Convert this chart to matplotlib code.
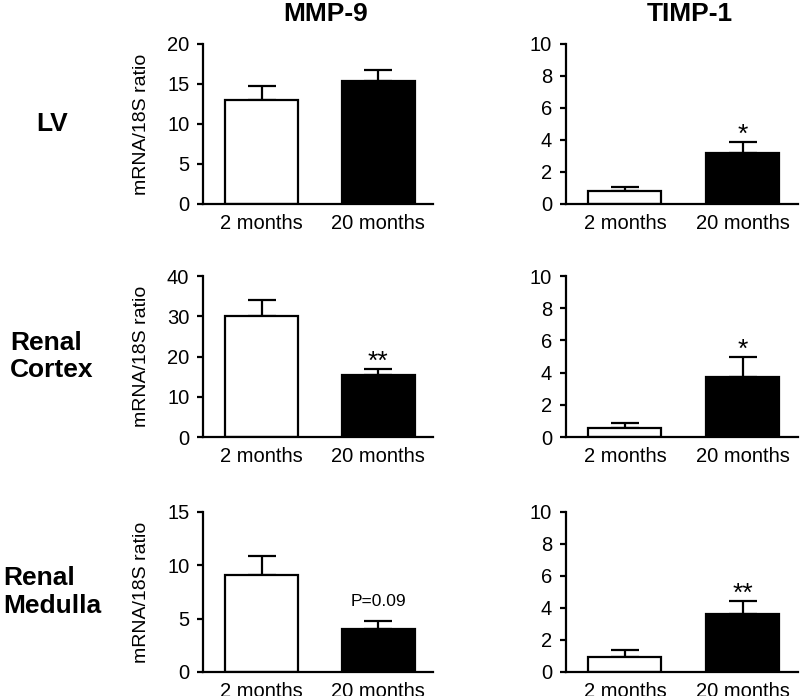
import numpy as np
import matplotlib
matplotlib.use("Agg")
import matplotlib.pyplot as plt

plt.rcParams['font.family'] = ['Liberation Sans', 'DejaVu Sans']

# data: mean and upper SEM for each panel
groups = ["2 months", "20 months"]
genes = ["MMP-9", "TIMP-1"]
tissues = ["LV", "Renal\nCortex", "Renal\nMedulla"]

mmp9_mean = [[13.0, 15.4], [30.1, 15.3], [9.06, 4.06]]
mmp9_err = [[1.8, 1.4], [4.0, 1.7], [1.84, 0.72]]
timp1_mean = [[0.83, 3.17], [0.59, 3.75], [0.94, 3.65]]
timp1_err = [[0.21, 0.73], [0.28, 1.2], [0.42, 0.77]]

mmp9_ymax = [20, 40, 15]
mmp9_ystep = [5, 10, 5]
timp1_ymax = [10, 10, 10]
timp1_ystep = [2, 2, 2]

mmp9_sig = [["", ""], ["", "**"], ["", "P=0.09"]]
timp1_sig = [["", "*"], ["", "*"], ["", "**"]]

fig = plt.figure(figsize=(8.0, 6.96), dpi=100)

col_left = [0.254, 0.7075]
col_width = [0.2875, 0.29]
row_bottom = [0.7069, 0.3721, 0.0345]
row_height = [0.2299, 0.2313, 0.2299]

panels = [
    (mmp9_mean, mmp9_err, mmp9_ymax, mmp9_ystep, mmp9_sig),
    (timp1_mean, timp1_err, timp1_ymax, timp1_ystep, timp1_sig),
]

x = np.arange(len(groups))
for c, (means, errs, ymaxs, ysteps, sigs) in enumerate(panels):
    for r in range(len(tissues)):
        ax = fig.add_axes([col_left[c], row_bottom[r], col_width[c], row_height[r]])
        ax.bar(x, means[r], width=0.62, color=["white", "black"],
               edgecolor="black", linewidth=1.6, zorder=2)
        # upper error bars only
        ax.errorbar(x, means[r], yerr=[[0, 0], errs[r]], fmt="none",
                    ecolor="black", elinewidth=1.6, capsize=10, capthick=1.6, zorder=1)
        for i, s in enumerate(sigs[r]):
            if not s:
                continue
            top = means[r][i] + errs[r][i]
            if s.startswith("P"):
                ax.annotate(s, xy=(x[i], top), xytext=(0, 11), textcoords="offset points",
                            ha="center", va="baseline", fontsize=12.5)
            else:
                ax.annotate(s, xy=(x[i], top), xytext=(0, 0), textcoords="offset points",
                            ha="center", va="baseline", fontsize=19)
        ax.set_xlim(-0.5, 1.47)
        ax.set_ylim(0, ymaxs[r])
        ax.set_yticks(np.arange(0, ymaxs[r] + 0.01, ysteps[r]))
        ax.set_xticks(x)
        ax.set_xticklabels(groups)
        ax.spines["top"].set_visible(False)
        ax.spines["right"].set_visible(False)
        ax.spines["left"].set_linewidth(1.6)
        ax.spines["bottom"].set_linewidth(1.6)
        ax.tick_params(axis="y", length=4, width=1.6, labelsize=14.5, pad=6)
        ax.tick_params(axis="x", length=0, labelsize=14.5, pad=7)
        if c == 0:
            ax.set_ylabel("mRNA/18S ratio", fontsize=14)
            ax.yaxis.set_label_coords(-0.23, 0.5)

for c, g in enumerate(genes):
    fig.text([0.4075, 0.8625][c], 0.98, g, ha="center", va="center",
             fontsize=19, fontweight="bold")

for r, t in enumerate(tissues):
    fig.text(0.065, row_bottom[r] + row_height[r] / 2, t, ha="center", va="center",
             multialignment="left", fontsize=19, fontweight="bold", linespacing=1.2)

fig.savefig("out.png", dpi=100)
